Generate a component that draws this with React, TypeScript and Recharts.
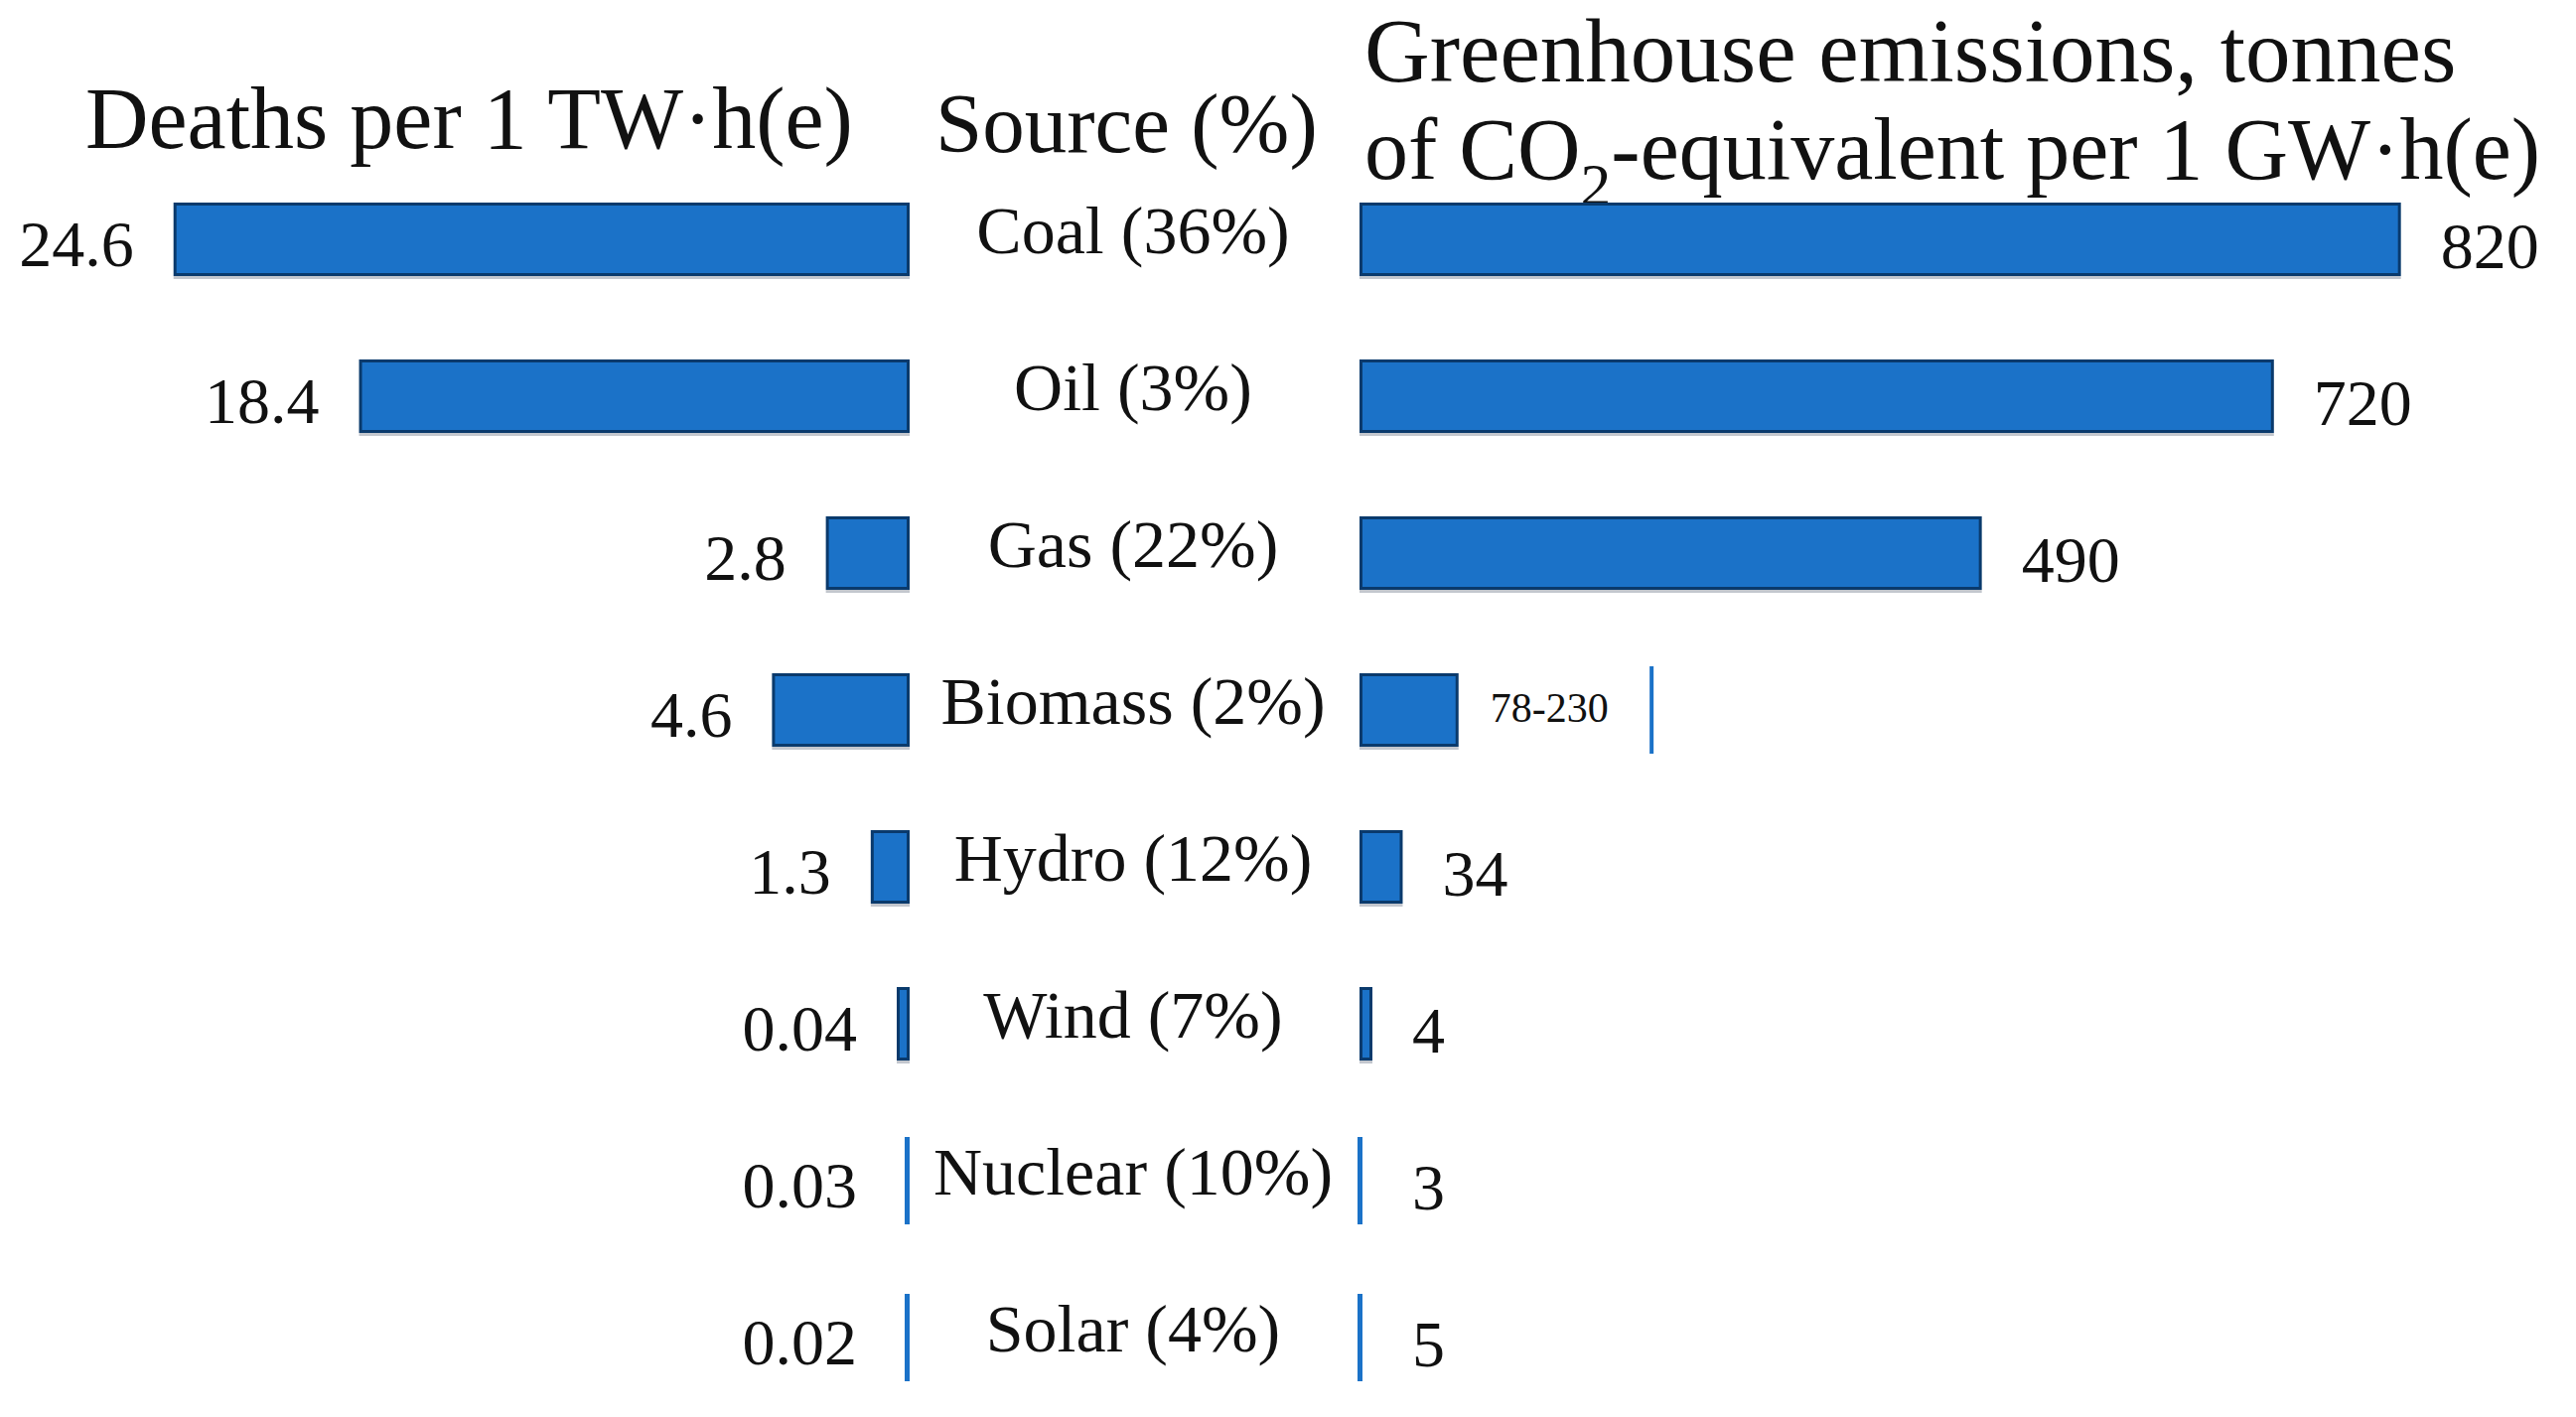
import { BarChart, Bar, XAxis, YAxis, LabelList } from "recharts";

const sources = ["Coal", "Oil", "Gas", "Biomass", "Hydro", "Wind", "Nuclear", "Solar"];
const sourceShares = [36, 3, 22, 2, 12, 7, 10, 4];
const deathsPerTWh = [24.6, 18.4, 2.8, 4.6, 1.3, 0.04, 0.03, 0.02];
const ghgLow = [820, 720, 490, 78, 34, 4, 3, 5];
const ghgHigh = [820, 720, 490, 230, 34, 4, 3, 5];

const rows = sources.map((s, i) => ({
  source: s,
  label: `${s} (${sourceShares[i]}%)`,
  deaths: deathsPerTWh[i],
  ghg: ghgLow[i],
  ghgExtra: ghgHigh[i] - ghgLow[i],
  ghgLabel: ghgHigh[i] > ghgLow[i] ? `${ghgLow[i]}-${ghgHigh[i]}` : `${ghgLow[i]}`,
}));

const FONT = "'Liberation Serif', 'DejaVu Serif', serif";
const BLUE = "#1b72c8";
const DARK = "#0a3a6c";
// these two are drawn as a plain marker line in the original figure
const lineOnly = new Set(["Nuclear", "Solar"]);

const makeBarShape = (zeroSide: "left" | "right") => (props: any) => {
  const { x, y, width, height, payload } = props;
  const x0 = Math.min(x, x + width);
  const w = Math.abs(width);
  if (lineOnly.has(payload.source)) {
    const cy = y + height / 2;
    const lx = zeroSide === "right" ? x0 + w - 5 : x0 - 2;
    return <rect x={lx} y={cy - 44} width={5} height={88} fill={BLUE} />;
  }
  return (
    <g>
      <rect x={x0} y={y + height} width={w} height={3} fill="#c3c7ce" />
      <rect
        x={x0 + 1.5}
        y={y + 1.5}
        width={Math.max(w - 3, 1)}
        height={height - 3}
        fill={BLUE}
        stroke={DARK}
        strokeWidth={3}
      />
    </g>
  );
};

const rangeShape = (props: any) => {
  const { x, y, width, height, payload } = props;
  if (!payload || !payload.ghgExtra) return <g />;
  const end = x + width;
  return <rect x={end - 2} y={y + height / 2 - 44} width={4} height={88} fill={BLUE} />;
};

const boxOf = (props: any) => {
  const vb = props.viewBox ?? props;
  return { x: vb.x, y: vb.y, width: vb.width, height: vb.height };
};

const renderDeathLabel = (props: any) => {
  const { x, y, width, height } = boxOf(props);
  const left = Math.min(x, x + width);
  return (
    <text
      x={left - 40}
      y={y + height / 2 + 4}
      textAnchor="end"
      dominantBaseline="central"
      fontFamily={FONT}
      fontSize={66}
      fill="#111"
    >
      {props.value}
    </text>
  );
};

const renderGhgLabel = (props: any) => {
  const { x, y, width, height } = boxOf(props);
  const right = Math.max(x, x + width);
  const small = String(props.value).includes("-");
  return (
    <text
      x={right + (small ? 32 : 40)}
      y={y + height / 2 + (small ? -2 : 6)}
      textAnchor="start"
      dominantBaseline="central"
      fontFamily={FONT}
      fontSize={small ? 42 : 66}
      fill="#111"
    >
      {props.value}
    </text>
  );
};

const renderSourceTick = (props: any) => {
  const { x, y, payload } = props;
  return (
    <text
      x={x + 225}
      y={y - 9}
      textAnchor="middle"
      dominantBaseline="central"
      fontFamily={FONT}
      fontSize={68}
      fill="#111"
    >
      {payload.value}
    </text>
  );
};

export default function App() {
  return (
    <div
      style={{
        position: "absolute",
        left: 0,
        top: 0,
        width: 2594,
        height: 1427,
        background: "#fff",
        fontFamily: FONT,
        color: "#111",
      }}
    >
      <div style={{ position: "absolute", left: 86, top: 76, fontSize: 88, lineHeight: "88px", whiteSpace: "nowrap" }}>
        Deaths per 1 TW·h(e)
      </div>
      <div style={{ position: "absolute", left: 942, top: 82, fontSize: 85, lineHeight: "85px", whiteSpace: "nowrap" }}>
        Source (%)
      </div>
      <div style={{ position: "absolute", left: 1374, top: 3, fontSize: 91, lineHeight: "97px", whiteSpace: "nowrap" }}>
        Greenhouse emissions, tonnes
      </div>
      <div style={{ position: "absolute", left: 1374, top: 102, fontSize: 88, lineHeight: "97px", whiteSpace: "nowrap" }}>
        of CO<sub style={{ fontSize: "0.7em", lineHeight: 0, position: "relative", top: 8 }}>2</sub>-equivalent per 1 GW·h(e)
      </div>

      <div style={{ position: "absolute", left: 0, top: 0 }}>
        <BarChart
          width={1369}
          height={1427}
          data={rows}
          layout="vertical"
          margin={{ top: 162, right: 0, bottom: 1, left: 12 }}
          barSize={74}
        >
          <XAxis type="number" domain={[0, 30]} reversed hide />
          <YAxis
            type="category"
            dataKey="label"
            orientation="right"
            width={453}
            axisLine={false}
            tickLine={false}
            tickSize={0}
            tickMargin={0}
            interval={0}
            tick={renderSourceTick}
          />
          <Bar dataKey="deaths" minPointSize={13} isAnimationActive={false} shape={makeBarShape("right")}>
            <LabelList dataKey="deaths" content={renderDeathLabel} />
          </Bar>
        </BarChart>
      </div>

      <div style={{ position: "absolute", left: 1300, top: 0 }}>
        <BarChart
          width={1294}
          height={1427}
          data={rows}
          layout="vertical"
          margin={{ top: 162, right: 74, bottom: 1, left: 69 }}
          barSize={74}
        >
          <XAxis type="number" domain={[0, 900]} hide />
          <YAxis type="category" dataKey="label" hide />
          <Bar
            dataKey="ghg"
            stackId="ghg"
            minPointSize={13}
            isAnimationActive={false}
            shape={makeBarShape("left")}
          >
            <LabelList dataKey="ghgLabel" content={renderGhgLabel} />
          </Bar>
          <Bar dataKey="ghgExtra" stackId="ghg" isAnimationActive={false} shape={rangeShape} />
        </BarChart>
      </div>
    </div>
  );
}
